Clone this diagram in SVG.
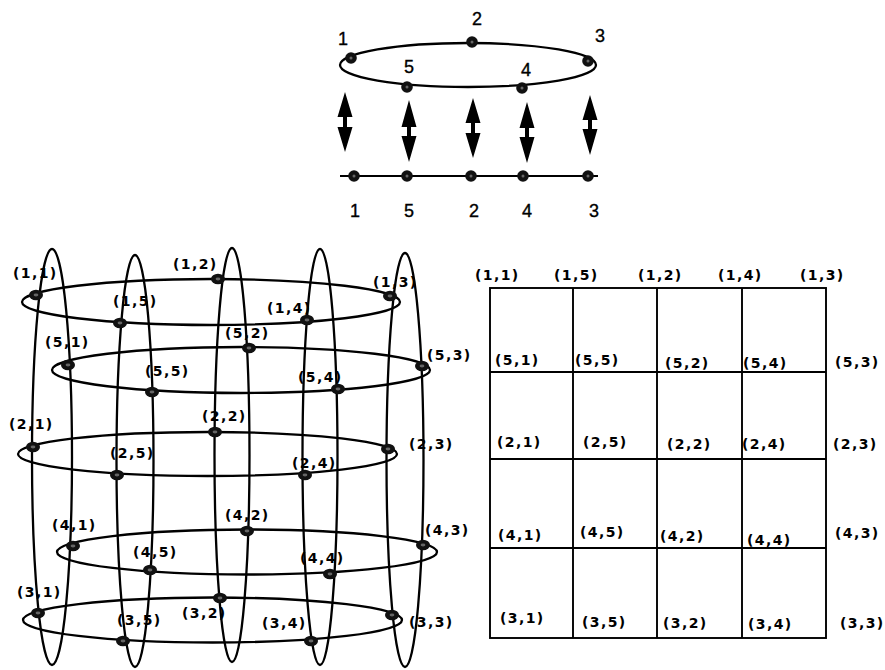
<svg xmlns="http://www.w3.org/2000/svg" width="885" height="670" viewBox="0 0 885 670">
<style>
.bg{fill:#fff}
.ln{fill:none;stroke:#000;stroke-width:2.3}
.thin{fill:none;stroke:#000;stroke-width:1.8}
.grid{fill:none;stroke:#000;stroke-width:1.9}
.dot{fill:#111}
.hole{fill:#666}
.arr{fill:#000}
.num{font-family:"Liberation Sans",Arial,sans-serif;font-size:18px;text-anchor:middle;fill:#000;stroke:#000;stroke-width:0.35}
.lb{font-family:"DejaVu Sans","Liberation Sans",sans-serif;font-weight:bold;font-size:14px;letter-spacing:1.4px;fill:#000}
</style>
<defs>
<g id="cd"><ellipse class="dot" cx="0" cy="0" rx="7" ry="5.2"/><ellipse class="hole" cx="0" cy="0" rx="2.4" ry="1.4"/></g>
<g id="sd"><circle class="dot" cx="0" cy="0" r="5.8"/><circle class="hole" cx="0" cy="0" r="1.5"/></g>
</defs>
<rect class="bg" width="885" height="670"/>

<g id="connectors">
  <ellipse class="ln" cx="468" cy="65" rx="128" ry="22"/>
  <line class="thin" x1="340" y1="176" x2="598" y2="176"/>
  <path class="arr" d="M345,92 L352.5,117 L347,117 L347,127 L352.5,127 L345,152 L337.5,127 L343,127 L343,117 L337.5,117 Z"/>
  <path class="arr" d="M409,100 L416.5,127 L411,127 L411,136 L416.5,136 L409,162 L401.5,136 L407,136 L407,127 L401.5,127 Z"/>
  <path class="arr" d="M473,98 L480.5,123 L475,123 L475,133 L480.5,133 L473,158 L465.5,133 L471,133 L471,123 L465.5,123 Z"/>
  <path class="arr" d="M527,102 L534.5,128 L529,128 L529,137 L534.5,137 L527,163 L519.5,137 L525,137 L525,128 L519.5,128 Z"/>
  <path class="arr" d="M590,95 L597.5,120 L592,120 L592,129 L597.5,129 L590,155 L582.5,129 L588,129 L588,120 L582.5,120 Z"/>
  <ellipse class="ln" cx="211" cy="302" rx="189" ry="23"/>
  <ellipse class="ln" cx="241" cy="370" rx="189" ry="23"/>
  <ellipse class="ln" cx="207.5" cy="454" rx="189.5" ry="22"/>
  <ellipse class="ln" cx="247" cy="552" rx="190" ry="22.5"/>
  <ellipse class="ln" cx="212.5" cy="620" rx="189.5" ry="22.5"/>
  <ellipse class="ln" cx="52" cy="457" rx="20" ry="208"/>
  <ellipse class="ln" cx="135" cy="461" rx="18.5" ry="206"/>
  <ellipse class="ln" cx="232" cy="455" rx="17.5" ry="207"/>
  <ellipse class="ln" cx="320" cy="457" rx="17.5" ry="208"/>
  <ellipse class="ln" cx="405" cy="460" rx="18.5" ry="207"/>
</g>

<g id="top-ring-nodes">
  <g id="ring-1"><use href="#sd" x="351" y="58"/><text class="num" x="343" y="45">1</text></g>
  <g id="ring-2"><use href="#sd" x="472" y="42"/><text class="num" x="477" y="25">2</text></g>
  <g id="ring-3"><use href="#sd" x="588" y="61"/><text class="num" x="600" y="42">3</text></g>
  <g id="ring-5"><use href="#sd" x="407" y="87"/><text class="num" x="409" y="73">5</text></g>
  <g id="ring-4"><use href="#sd" x="522" y="88"/><text class="num" x="526" y="76">4</text></g>
</g>

<g id="line-nodes">
  <g id="line-1"><use href="#sd" x="354" y="176"/><text class="num" x="355" y="217">1</text></g>
  <g id="line-5"><use href="#sd" x="407" y="176"/><text class="num" x="409" y="217">5</text></g>
  <g id="line-2"><use href="#sd" x="471" y="176"/><text class="num" x="474" y="217">2</text></g>
  <g id="line-4"><use href="#sd" x="523" y="176"/><text class="num" x="527" y="217">4</text></g>
  <g id="line-3"><use href="#sd" x="588" y="176"/><text class="num" x="594" y="217">3</text></g>
</g>

<g id="torus-nodes">
  <g id="t11"><use href="#cd" x="36" y="295"/><text class="lb" x="13" y="278">(1,1)</text></g>
  <g id="t15"><use href="#cd" x="120" y="323"/><text class="lb" x="113" y="306">(1,5)</text></g>
  <g id="t12"><use href="#cd" x="218" y="279"/><text class="lb" x="173" y="269">(1,2)</text></g>
  <g id="t14"><use href="#cd" x="307" y="320"/><text class="lb" x="267" y="313">(1,4)</text></g>
  <g id="t13"><use href="#cd" x="390" y="296"/><text class="lb" x="373" y="287">(1,3)</text></g>

  <g id="t51"><use href="#cd" x="68" y="365"/><text class="lb" x="45" y="347">(5,1)</text></g>
  <g id="t55"><use href="#cd" x="152" y="392"/><text class="lb" x="145" y="376">(5,5)</text></g>
  <g id="t52"><use href="#cd" x="249" y="348"/><text class="lb" x="225" y="338">(5,2)</text></g>
  <g id="t54"><use href="#cd" x="338" y="389"/><text class="lb" x="298" y="382">(5,4)</text></g>
  <g id="t53"><use href="#cd" x="422" y="366"/><text class="lb" x="427" y="360">(5,3)</text></g>

  <g id="t21"><use href="#cd" x="33" y="447"/><text class="lb" x="9" y="429">(2,1)</text></g>
  <g id="t25"><use href="#cd" x="117" y="475"/><text class="lb" x="110" y="458">(2,5)</text></g>
  <g id="t22"><use href="#cd" x="215" y="432"/><text class="lb" x="202" y="421">(2,2)</text></g>
  <g id="t24"><use href="#cd" x="305" y="475"/><text class="lb" x="292" y="468">(2,4)</text></g>
  <g id="t23"><use href="#cd" x="388" y="449"/><text class="lb" x="409" y="449">(2,3)</text></g>

  <g id="t41"><use href="#cd" x="73" y="546"/><text class="lb" x="52" y="530">(4,1)</text></g>
  <g id="t45"><use href="#cd" x="150" y="570"/><text class="lb" x="133" y="557">(4,5)</text></g>
  <g id="t42"><use href="#cd" x="247" y="531"/><text class="lb" x="225" y="520">(4,2)</text></g>
  <g id="t44"><use href="#cd" x="330" y="574"/><text class="lb" x="300" y="563">(4,4)</text></g>
  <g id="t43"><use href="#cd" x="423" y="545"/><text class="lb" x="425" y="535">(4,3)</text></g>

  <g id="t31"><use href="#cd" x="38" y="613"/><text class="lb" x="17" y="597">(3,1)</text></g>
  <g id="t35"><use href="#cd" x="123" y="641"/><text class="lb" x="117" y="625">(3,5)</text></g>
  <g id="t32"><use href="#cd" x="220" y="598"/><text class="lb" x="182" y="618">(3,2)</text></g>
  <g id="t34"><use href="#cd" x="311" y="641"/><text class="lb" x="262" y="628">(3,4)</text></g>
  <g id="t33"><use href="#cd" x="392" y="615"/><text class="lb" x="409" y="627">(3,3)</text></g>
</g>

<g id="mesh">
  <rect class="grid" x="490" y="288" width="336" height="350"/>
  <line class="grid" x1="573" y1="288" x2="573" y2="638"/>
  <line class="grid" x1="657" y1="288" x2="657" y2="638"/>
  <line class="grid" x1="742" y1="288" x2="742" y2="638"/>
  <line class="grid" x1="490" y1="372" x2="826" y2="372"/>
  <line class="grid" x1="490" y1="459" x2="826" y2="459"/>
  <line class="grid" x1="490" y1="548" x2="826" y2="548"/>
</g>

<g id="mesh-labels">
  <text class="lb" x="475" y="280">(1,1)</text>
  <text class="lb" x="554" y="280">(1,5)</text>
  <text class="lb" x="638" y="280">(1,2)</text>
  <text class="lb" x="718" y="280">(1,4)</text>
  <text class="lb" x="800" y="280">(1,3)</text>

  <text class="lb" x="495" y="365">(5,1)</text>
  <text class="lb" x="575" y="365">(5,5)</text>
  <text class="lb" x="665" y="368">(5,2)</text>
  <text class="lb" x="743" y="368">(5,4)</text>
  <text class="lb" x="835" y="367">(5,3)</text>

  <text class="lb" x="497" y="447">(2,1)</text>
  <text class="lb" x="583" y="447">(2,5)</text>
  <text class="lb" x="667" y="449">(2,2)</text>
  <text class="lb" x="742" y="449">(2,4)</text>
  <text class="lb" x="833" y="449">(2,3)</text>

  <text class="lb" x="498" y="540">(4,1)</text>
  <text class="lb" x="580" y="537">(4,5)</text>
  <text class="lb" x="660" y="541">(4,2)</text>
  <text class="lb" x="747" y="545">(4,4)</text>
  <text class="lb" x="835" y="538">(4,3)</text>

  <text class="lb" x="500" y="623">(3,1)</text>
  <text class="lb" x="582" y="627">(3,5)</text>
  <text class="lb" x="663" y="628">(3,2)</text>
  <text class="lb" x="748" y="629">(3,4)</text>
  <text class="lb" x="840" y="628">(3,3)</text>
</g>
</svg>
